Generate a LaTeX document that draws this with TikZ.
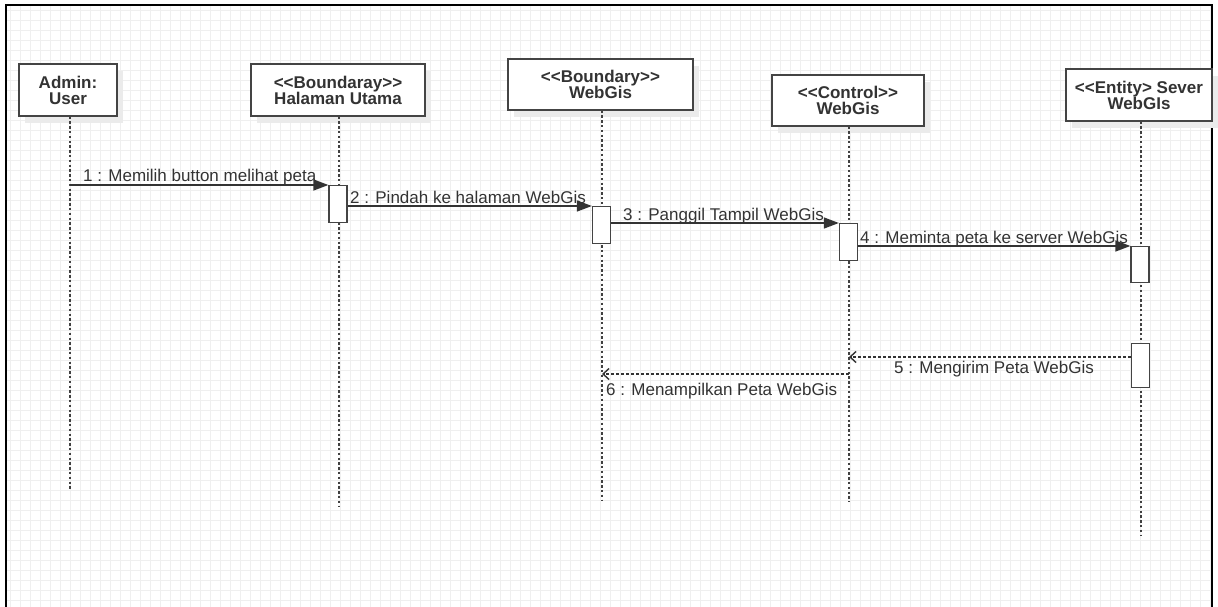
\documentclass[tikz,border=0pt]{standalone}
\usepackage{fontspec}
\setmainfont{Liberation Sans}[Ligatures=TeXOff]
\usetikzlibrary{arrows.meta,shadows}
\definecolor{gridline}{HTML}{EFEFEF}
\definecolor{ink}{HTML}{333333}
\definecolor{edge}{HTML}{444444}
\begin{document}
\lineskiplimit=-20pt
\begin{tikzpicture}[x=1pt,y=-1pt,
  lifebox/.style={draw=edge, line width=1.4pt, fill=white, align=center, inner sep=2pt,
    font=\bfseries\fontsize{17}{16}\selectfont, text=ink,
    drop shadow={shadow xshift=6pt, shadow yshift=-7pt, fill=black!8, opacity=1}},
  lifeline/.style={black!75, line width=1.8pt, dash pattern=on 2.4pt off 2.4pt},
  act/.style={draw=edge, line width=1.3pt, fill=white, minimum width=18pt, inner sep=0pt, anchor=north},
  call/.style={ink, line width=1.4pt, -{Triangle[length=15pt,width=11pt]}},
  reply/.style={ink, line width=1.4pt, dash pattern=on 3pt off 2pt, -{Straight Barb[length=6pt,width=11pt]}},
  lbl/.style={font=\fontsize{17}{19}\selectfont, text=ink, inner sep=0pt}
]
\useasboundingbox (0,0) rectangle (1218,607);
\fill[white] (0,0) rectangle (1218,607);

% drawing canvas: fine grid and frame
\draw[gridline, line width=0.6pt, step=10pt] (6,5) grid (1212,607);
\draw[black, line width=1.8pt] (6,607) -- (6,5) -- (1212,5) -- (1212,607);

% lifeline heads
\node[lifebox, minimum width=98pt, minimum height=52pt] (admin) at (68,90) {Admin:\\User};
\node[lifebox, minimum width=174pt, minimum height=52pt] (halaman) at (338,90) {<<Boundaray>>\\Halaman Utama};
\node[lifebox, minimum width=185pt, minimum height=51pt] (bwebgis) at (600.5,84.5) {<<Boundary>>\\WebGis};
\node[lifebox, minimum width=152pt, minimum height=51pt] (cwebgis) at (848,100.5) {<<Control>>\\WebGis};
\node[lifebox, minimum width=146pt, minimum height=52pt] (server) at (1139,95) {<<Entity> Sever\\WebGIs};

% lifeline ends
\coordinate (adminEnd) at (70,490);
\coordinate (halamanEnd) at (339,506);
\coordinate (bwebgisEnd) at (602,500);
\coordinate (cwebgisEnd) at (849,502);
\coordinate (serverEnd) at (1141,536);

\draw[lifeline] (adminEnd |- admin.south) -- (adminEnd);
\draw[lifeline] (halamanEnd |- halaman.south) -- (halamanEnd);
\draw[lifeline] (bwebgisEnd |- bwebgis.south) -- (bwebgisEnd);
\draw[lifeline] (cwebgisEnd |- cwebgis.south) -- (cwebgisEnd);
\draw[lifeline] (serverEnd |- server.south) -- (serverEnd);

% activation bars
\node[act, minimum height=37pt] (a1) at (338,185) {};
\node[act, minimum height=37pt] (a2) at (601.5,206) {};
\node[act, minimum height=37pt] (a3) at (848.5,223) {};
\node[act, minimum height=36pt] (a4) at (1140,246) {};
\node[act, minimum height=44pt] (a5) at (1140.5,343) {};

% messages
\draw[call] (adminEnd |- a1.north) -- (a1.north west);
\node[lbl, anchor=base west] (l1) at (83,182) {1 : Memilih button melihat peta};

\draw[call] (a1.east |- a2.north) -- (a2.north west);
\node[lbl, anchor=base west] (l2) at (350,203) {2 : Pindah ke halaman WebGis};

\draw[call] (a2.east |- a3.north) -- (a3.north west);
\node[lbl, anchor=base west] (l3) at (623,220) {3 : Panggil Tampil WebGis};

\draw[call] (a3.east |- a4.north) -- (a4.north west);
\node[lbl, anchor=base west] (l4) at (860,243) {4 : Meminta peta ke server WebGis};

\coordinate (r5) at (a5.west |- 0,357);
\draw[reply] (r5) -- (cwebgisEnd |- r5);
\node[lbl] (l5) at (994,369) {5 : Mengirim Peta WebGis};

\coordinate (r6) at (cwebgisEnd |- 0,374);
\draw[reply] (r6) -- (bwebgisEnd |- r6);
\node[lbl, anchor=west] (l6) at (606,391) {6 : Menampilkan Peta WebGis};
\end{tikzpicture}
\end{document}
